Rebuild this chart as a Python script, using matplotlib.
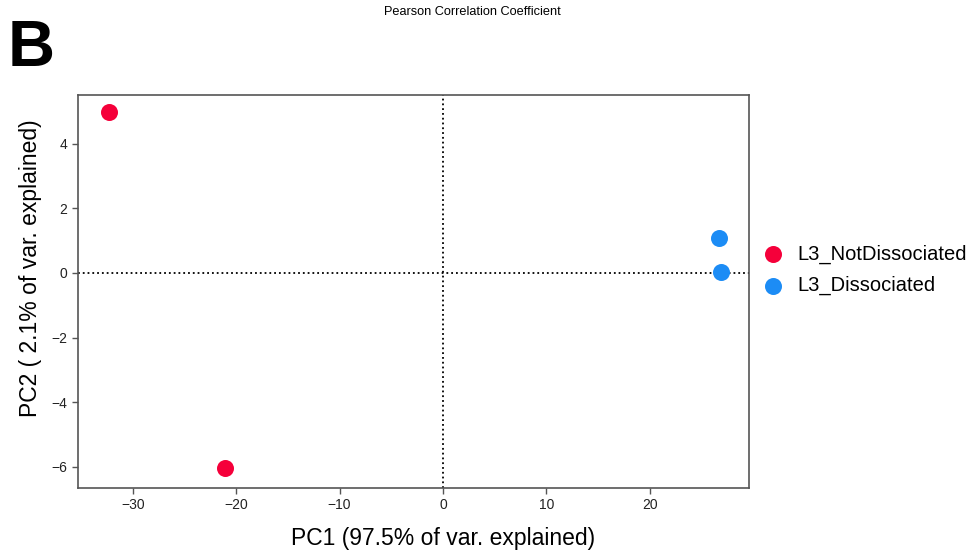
import matplotlib
matplotlib.use('Agg')
from matplotlib import pyplot as plt

plt.rcParams['font.family'] = ['Liberation Sans', 'DejaVu Sans']

# PCA scores
groups = ['L3_NotDissociated', 'L3_Dissociated']
colors = ['#F5003A', '#1C8CF5']
pc1 = [[-32.3, -21.1], [26.7, 26.9]]
pc2 = [[4.98, -6.05], [1.08, 0.03]]

fig = plt.figure(figsize=(9.68, 5.51), dpi=100)
ax = fig.add_axes([0.0806, 0.1143, 0.6932, 0.7133])

ax.axvline(0, color='black', linestyle=':', linewidth=1.3, zorder=1)
ax.axhline(0, color='black', linestyle=':', linewidth=1.3, zorder=1)

for g, c, xs, ys in zip(groups, colors, pc1, pc2):
    ax.scatter(xs, ys, s=150, color=c, label=g, zorder=3, linewidths=0)

ax.set_xlim(-35.3, 29.6)
ax.set_ylim(-6.66, 5.51)
ax.set_xticks([-30, -20, -10, 0, 10, 20])
ax.set_yticks([-6, -4, -2, 0, 2, 4])
ax.set_xticklabels(['\u221230', '\u221220', '\u221210', '0', '10', '20'])
ax.set_yticklabels(['\u22126', '\u22124', '\u22122', '0', '2', '4'])
ax.tick_params(labelsize=10, colors='#555555', labelcolor='#222222', length=4, width=1)
for s in ax.spines.values():
    s.set_color('#555555')
    s.set_linewidth(1.2)

ax.set_xlabel('PC1 (97.5% of var. explained)', fontsize=16.5)
ax.set_ylabel('PC2 ( 2.1% of var. explained)', fontsize=16.5)
ax.xaxis.set_label_coords(0.544, -0.1)
ax.yaxis.set_label_coords(-0.053, 0.56)

fig.text(0.488, 0.99, 'Pearson Correlation Coefficient', fontsize=9.2, ha='center', va='top')
fig.text(0.008, 0.966, 'B', fontsize=47, fontweight='bold', ha='left', va='top')

ax.legend(loc='center left', bbox_to_anchor=(0.769, 0.51), bbox_transform=fig.transFigure,
          frameon=False, fontsize=14.5, handletextpad=0.75, labelspacing=0.62,
          markerscale=1.0, handlelength=1.0)

plt.savefig('out.png', dpi=100)
